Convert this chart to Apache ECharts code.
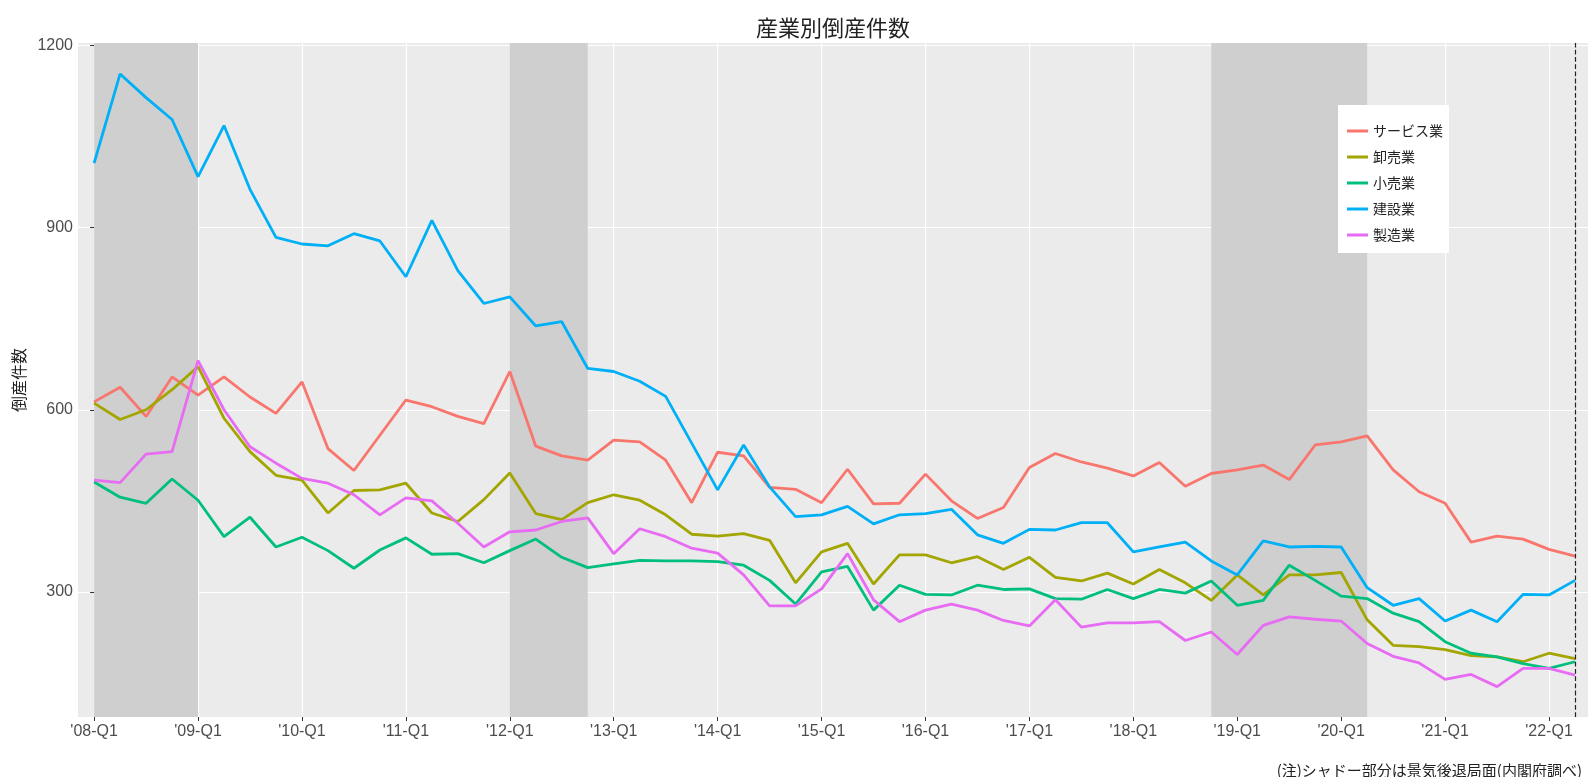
<!DOCTYPE html>
<html lang="ja">
<head>
<meta charset="utf-8">
<title>産業別倒産件数</title>
<script src="https://cdn.jsdelivr.net/npm/echarts@6/dist/echarts.min.js"></script>
<style>
  html, body { margin: 0; padding: 0; background: #fff; }
  #chart { width: 1593px; height: 777px; }
</style>
</head>
<body>
<div id="chart"></div>
<script>
// 四半期: '08-Q1 (index 0) 〜 '22-Q2 (index 57)
const tickIndex = [0, 4, 8, 12, 16, 20, 24, 28, 32, 36, 40, 44, 48, 52, 56]
const tickLabels = ["'08-Q1", "'09-Q1", "'10-Q1", "'11-Q1", "'12-Q1", "'13-Q1", "'14-Q1", "'15-Q1",
  "'16-Q1", "'17-Q1", "'18-Q1", "'19-Q1", "'20-Q1", "'21-Q1", "'22-Q1"]
const yTicks = [300, 600, 900, 1200]

// 業種別の倒産件数（四半期）
const service = [613, 637, 589, 654, 624, 654, 621, 594, 646, 536, 500, 558, 616,
  605, 589, 577, 663, 540, 524, 517, 550, 547, 517, 447, 530, 524, 472, 469, 447,
  502, 445, 446, 494, 450, 421, 439, 505, 528, 514, 504, 491, 513, 474, 495,
  501, 509, 485, 542, 547, 557, 501, 465, 446, 382, 392, 387, 370, 359]
const wholesale = [611, 584, 600, 633, 671, 586, 531, 492, 484, 430, 467, 468, 479,
  430, 416, 452, 496, 429, 419, 447, 460, 451, 427, 395, 392, 396, 385, 315, 366,
  380, 313, 361, 361, 348, 358, 337, 357, 324, 318, 331, 313, 337, 315, 286,
  328, 295, 328, 328, 332, 254, 212, 210, 205, 195, 193, 185, 199, 190]
const retail = [481, 456, 446, 486, 451, 391, 423, 374, 390, 368, 339, 369, 389,
  362, 363, 348, 368, 387, 357, 340, 346, 352, 351, 351, 350, 344, 319, 280, 333,
  342, 270, 311, 296, 295, 311, 304, 305, 289, 288, 304, 289, 304, 298, 318,
  278, 286, 344, 319, 293, 289, 265, 251, 218, 199, 193, 182, 174, 185]
const construction = [1006, 1153, 1114, 1078, 984, 1068, 963, 884, 873, 870, 890, 878, 819,
  912, 829, 775, 786, 738, 745, 668, 663, 647, 622, 545, 468, 542, 473, 424, 427,
  441, 412, 427, 429, 436, 394, 380, 403, 402, 414, 414, 366, 374, 382, 351,
  328, 384, 374, 375, 374, 307, 278, 289, 252, 270, 251, 296, 295, 319]
const manufacturing = [484, 480, 527, 531, 681, 600, 539, 512, 487, 479, 460, 427, 455,
  450, 413, 374, 399, 402, 416, 422, 363, 404, 391, 372, 364, 328, 277, 277, 305,
  363, 287, 251, 270, 280, 270, 253, 244, 287, 242, 249, 249, 251, 220, 234,
  197, 245, 259, 255, 252, 215, 194, 183, 156, 164, 144, 174, 174, 163]

// 景気後退局面（四半期 index の範囲）
const recessions = [[0, 4], [16, 19], [43, 49]]
const lastIndex = 57

const seriesNames = ['サービス業', '卸売業', '小売業', '建設業', '製造業']
const seriesData = [service, wholesale, retail, construction, manufacturing]
const colors = ['#F8766D', '#A3A500', '#00BF7D', '#00B0F6', '#E76BF3']

const font = "'Liberation Sans', 'Noto Sans CJK JP', sans-serif"
const jpFont = "'Noto Sans CJK JP', sans-serif"

const chart = echarts.init(document.getElementById('chart'))

const lineSeries = seriesNames.map((name, k) => ({
  name: name,
  type: 'line',
  z: 3,
  showSymbol: false,
  symbol: 'none',
  color: colors[k],
  lineStyle: { width: 2.8, color: colors[k] },
  data: seriesData[k].map((v, i) => [i, v])
}))

const option = {
  animation: false,
  title: [
    {
      text: '産業別倒産件数',
      left: 751,
      top: 12,
      textStyle: { fontFamily: jpFont, fontSize: 22, fontWeight: 'normal', color: '#222' }
    },
    {
      text: '(注)シャドー部分は景気後退局面(内閣府調べ)',
      right: 6,
      top: 758,
      textStyle: { fontFamily: jpFont, fontSize: 15, fontWeight: 'normal', color: '#222' }
    }
  ],
  legend: {
    data: seriesNames,
    orient: 'vertical',
    left: 1338,
    top: 105,
    backgroundColor: '#ffffff',
    padding: [19, 6, 11, 9],
    icon: 'rect',
    itemWidth: 21,
    itemHeight: 3,
    itemGap: 12,
    textStyle: { fontFamily: jpFont, fontSize: 14, color: '#222' }
  },
  grid: {
    left: 78,
    right: 5,
    top: 43,
    bottom: 60,
    show: true,
    backgroundColor: '#EBEBEB',
    borderWidth: 0
  },
  xAxis: {
    type: 'value',
    min: -0.62,
    max: 57.5,
    axisLine: { show: false },
    axisTick: { show: true, customValues: tickIndex, length: 4, lineStyle: { color: '#333' } },
    axisLabel: {
      customValues: tickIndex,
      margin: 7,
      fontFamily: font,
      fontSize: 16,
      color: '#4d4d4d',
      formatter: v => tickLabels[tickIndex.indexOf(v)]
    },
    splitLine: { show: true, lineStyle: { color: '#ffffff', width: 1.2 } }
  },
  yAxis: {
    type: 'value',
    min: 94,
    max: 1204,
    name: '倒産件数',
    nameLocation: 'middle',
    nameRotate: 90,
    nameGap: 47,
    nameTextStyle: { fontFamily: jpFont, fontSize: 16, color: '#222' },
    axisLine: { show: false },
    axisTick: { show: true, customValues: yTicks, length: 4, lineStyle: { color: '#333' } },
    axisLabel: {
      customValues: yTicks,
      margin: 5,
      fontFamily: font,
      fontSize: 16,
      color: '#4d4d4d',
      formatter: v => String(v)
    },
    splitLine: { show: true, lineStyle: { color: '#ffffff', width: 1.2 } }
  },
  series: [
    // 景気後退局面のシャドー
    {
      name: 'shade',
      type: 'line',
      z: 1,
      data: [],
      silent: true,
      markArea: {
        silent: true,
        itemStyle: { color: '#CFCFCF' },
        data: recessions.map(r => [{ xAxis: r[0] }, { xAxis: r[1] }])
      }
    },
    ...lineSeries,
    // 直近期の点線
    {
      name: 'latest',
      type: 'line',
      z: 4,
      data: [],
      silent: true,
      markLine: {
        silent: true,
        symbol: 'none',
        label: { show: false },
        lineStyle: { type: 'dashed', color: '#222', width: 1.2 },
        data: [{ xAxis: lastIndex }]
      }
    }
  ]
}

chart.setOption(option)
</script>
</body>
</html>
